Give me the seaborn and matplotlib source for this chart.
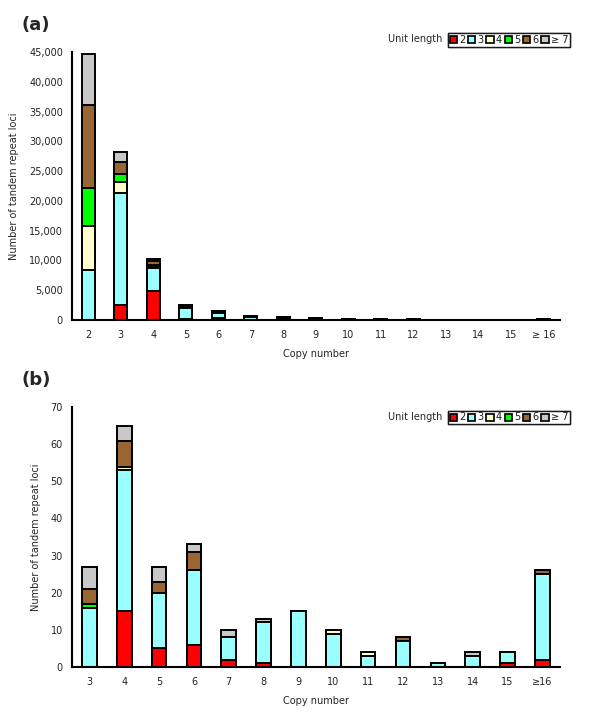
import numpy as np
import pandas as pd
import matplotlib
matplotlib.use("Agg")
import matplotlib.pyplot as plt
import matplotlib.patches as mpatches
from matplotlib.ticker import FuncFormatter
import seaborn as sns

sns.set_style("white")
plt.rcParams['font.family'] = ['DejaVu Sans']

# unit lengths and their colours
unit_labels = ["2", "3", "4", "5", "6", "\u2265 7"]
unit_colors = ["#FF0000", "#99FFFF", "#FFFFCC", "#00FF00", "#996633", "#C8C8C8"]

# panel (a)
copy_a = ["2", "3", "4", "5", "6", "7", "8", "9", "10", "11", "12", "13", "14", "15", "\u2265 16"]
a_u2 = [0, 2500, 4900, 200, 300, 60, 40, 20, 10, 10, 5, 0, 0, 0, 10]
a_u3 = [8400, 18900, 3900, 1900, 900, 450, 300, 200, 150, 100, 80, 30, 20, 20, 150]
a_u4 = [7400, 1700, 350, 100, 80, 50, 40, 30, 20, 10, 10, 5, 5, 5, 20]
a_u5 = [6400, 1500, 100, 50, 30, 20, 20, 10, 10, 10, 5, 5, 0, 0, 10]
a_u6 = [13900, 2000, 700, 200, 120, 80, 60, 40, 30, 20, 20, 10, 5, 5, 30]
a_u7 = [8600, 1600, 300, 150, 100, 60, 40, 30, 20, 20, 10, 5, 5, 5, 30]

# panel (b)
copy_b = ["3", "4", "5", "6", "7", "8", "9", "10", "11", "12", "13", "14", "15", "\u226516"]
b_u2 = [0, 15, 5, 6, 2, 1, 0, 0, 0, 0, 0, 0, 1, 2]
b_u3 = [16, 38, 15, 20, 6, 11, 15, 9, 3, 7, 1, 3, 3, 23]
b_u4 = [0, 1, 0, 0, 0, 0, 0, 1, 1, 0, 0, 0, 0, 0]
b_u5 = [1, 0, 0, 0, 0, 0, 0, 0, 0, 0, 0, 0, 0, 0]
b_u6 = [4, 7, 3, 5, 0, 0, 0, 0, 0, 1, 0, 0, 0, 1]
b_u7 = [6, 4, 4, 2, 2, 1, 0, 0, 0, 0, 0, 1, 0, 0]


def stacked(ax, cats, series, width):
    cum = np.cumsum(np.array(series), axis=0)
    # draw tallest cumulative first, smaller ones over it
    for i in range(len(series) - 1, -1, -1):
        df = pd.DataFrame({"copy": cats, "n": cum[i]})
        sns.barplot(data=df, x="copy", y="n", order=cats, color=unit_colors[i],
                    saturation=1, width=width, edgecolor="black", linewidth=1.4, ax=ax)
    n = len(cats)
    ax.set_xlim(-0.5, n - 0.5)
    ax.set_xticks(np.arange(n))
    ax.set_xticks(np.arange(n + 1) - 0.5, minor=True)
    ax.tick_params(axis="x", which="major", length=0, labelsize=7, pad=7, colors="#222222")
    ax.tick_params(axis="x", which="minor", length=3.5, width=1, direction="out", color="black")
    ax.tick_params(axis="y", length=3, width=1, direction="out", labelsize=7, colors="#222222")
    ax.tick_params(axis="y", color="black")
    for s in ["top", "right"]:
        ax.spines[s].set_visible(False)
    for s in ["left", "bottom"]:
        ax.spines[s].set_linewidth(1.5)
        ax.spines[s].set_color("black")
    ax.set_xlabel("Copy number", fontsize=7, labelpad=7)
    ax.set_ylabel("Number of tandem repeat loci", fontsize=7, labelpad=7)


fig = plt.figure(figsize=(6, 7.24), dpi=100)
ax1 = fig.add_axes([0.12, 0.558, 0.813, 0.370])
ax2 = fig.add_axes([0.12, 0.0787, 0.813, 0.359])

stacked(ax1, copy_a, [a_u2, a_u3, a_u4, a_u5, a_u6, a_u7], 0.4)
ax1.set_ylim(0, 45000)
ax1.set_yticks(np.arange(0, 45001, 5000))
ax1.yaxis.set_major_formatter(FuncFormatter(lambda v, p: f"{int(v):,}"))

stacked(ax2, copy_b, [b_u2, b_u3, b_u4, b_u5, b_u6, b_u7], 0.42)
ax2.set_ylim(0, 70)
ax2.set_yticks(np.arange(0, 71, 10))

handles = [mpatches.Patch(facecolor=c, edgecolor="black", linewidth=1.2) for c in unit_colors]
for ytop in [0.9544, 0.4330]:
    leg = fig.legend(handles, unit_labels, loc="upper right", bbox_to_anchor=(0.95, ytop),
                     ncol=6, fontsize=7, handlelength=0.75, handleheight=0.75,
                     handletextpad=0.2, columnspacing=0.3, borderpad=0.2,
                     borderaxespad=0, fancybox=False, frameon=True, edgecolor="black")
    leg.get_frame().set_linewidth(1.0)
    fig.add_artist(leg)
    fig.text(0.737, ytop - 0.0085, "Unit length", fontsize=7, ha="right", va="center")

fig.text(0.035, 0.965, "(a)", fontsize=13, fontweight="bold", ha="left", va="center")
fig.text(0.035, 0.475, "(b)", fontsize=13, fontweight="bold", ha="left", va="center")

fig.savefig("out.png", dpi=100)
